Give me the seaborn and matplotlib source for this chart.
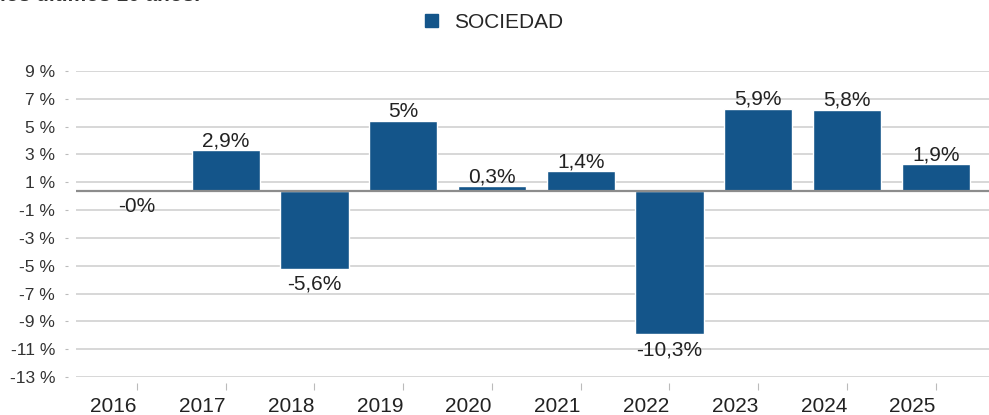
import matplotlib
matplotlib.use('Agg')
import matplotlib.pyplot as plt
from matplotlib.patches import Patch
import seaborn as sns

# Datos
anios = ['2016', '2017', '2018', '2019', '2020', '2021', '2022', '2023', '2024', '2025']
rentabilidad = [-0.02, 2.9, -5.6, 5.0, 0.3, 1.4, -10.3, 5.9, 5.8, 1.9]
serie = 'SOCIEDAD'

# Marcas del eje Y (el eje está desplazado y las etiquetas van redondeadas)
y_ticks = [8.6, 6.6, 4.6, 2.6, 0.6, -1.4, -3.4, -5.4, -7.4, -9.4, -11.4, -13.4]
y_labels = ['9 %', '7 %', '5 %', '3 %', '1 %', '-1 %', '-3 %', '-5 %', '-7 %', '-9 %', '-11 %', '-13 %']

color_barra = '#14558a'

sns.set_theme(style='white')
plt.rcParams['font.family'] = ['Liberation Sans', 'DejaVu Sans']

fig = plt.figure(figsize=(9.89, 4.15), dpi=100)
ax = fig.add_axes([76 / 989, 1 - 377 / 415, 1 - 76 / 989, (377 - 71) / 415])

sns.barplot(x=anios, y=rentabilidad, color=color_barra, width=0.77,
            saturation=1, ax=ax, zorder=3)

ax.set_xlim(-0.687, 9.6)
ax.set_ylim(-13.4, 8.6)

# Rejilla horizontal y línea del cero
ax.set_yticks(y_ticks)
ax.set_yticklabels(y_labels)
ax.yaxis.grid(True, color='#cdcdcd', lw=1.1)
ax.get_ygridlines()[-1].set_visible(False)
ax.set_axisbelow(True)
ax.axhline(0, color='#8c8c8c', lw=1.6, zorder=4)

for s in ax.spines.values():
    s.set_visible(False)
ax.spines['left'].set_position(('outward', 5.8))
ax.spines['bottom'].set_position(('outward', 4.3))

ax.tick_params(axis='y', left=True, length=2.2, width=0.8, color='#bbbbbb',
               pad=7, labelsize=12.5, labelcolor='#333333')
ax.tick_params(axis='x', bottom=True, length=5, width=0.8, color='#bbbbbb',
               pad=5, labelsize=15, labelcolor='#222222')
for lbl in ax.get_xticklabels():
    lbl.set_horizontalalignment('right')

ax.set_xlabel('')
ax.set_ylabel('')

# Etiquetas de valor sobre/bajo cada barra
def formato(v):
    txt = f'{v:.1f}'
    if txt.endswith('.0'):
        txt = txt[:-2]
    return txt.replace('.', ',') + '%'

for i, v in enumerate(rentabilidad):
    if v >= 0:
        ax.annotate(formato(v), (i, v), xytext=(0, 0), textcoords='offset points',
                    ha='center', va='bottom', fontsize=15, color='#222222', zorder=5)
    else:
        ax.annotate(formato(v), (i, v), xytext=(0, -4.5), textcoords='offset points',
                    ha='center', va='top', fontsize=15, color='#222222', zorder=5)

# Leyenda
fig.legend(handles=[Patch(color=color_barra, label=serie)], loc='center',
           bbox_to_anchor=(0.5, 1 - 22 / 415), frameon=False, fontsize=15,
           handlelength=0.6, handleheight=0.6, handletextpad=0.8)

# Título recortado por arriba
fig.text(0.0, 1 - 1 / 415, 'los últimos 10 años.', ha='left', va='baseline',
         fontsize=15, fontweight='bold', color='#333333')

fig.savefig('out.png', dpi=100)
